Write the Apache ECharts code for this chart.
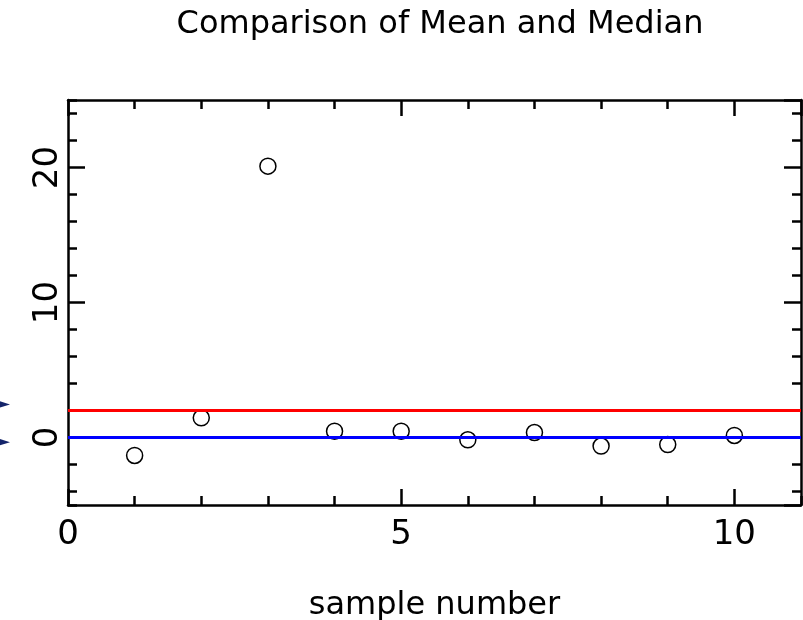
<!DOCTYPE html>
<html>
<head>
<meta charset="utf-8">
<script src="https://cdn.jsdelivr.net/npm/echarts@6/dist/echarts.min.js"></script>
<style>
  html, body { margin: 0; padding: 0; background: #fff; }
  #chart { width: 803px; height: 620px; }
</style>
</head>
<body>
<div id="chart"></div>
<script>
// data
var sampleNumbers = [1, 2, 3, 4, 5, 6, 7, 8, 9, 10];
var sampleValues = [-1.33, 1.46, 20.1, 0.47, 0.47, -0.17, 0.37, -0.63, -0.52, 0.15];
var meanValue = 2.05;
var medianValue = 0.02;
var arrowValues = [2.45, -0.35];
var arrowX = -0.99;

var xRange = [0, 11];
var yRange = [-5, 25];

var FONT = 'DejaVu Sans';

var points = sampleNumbers.map(function (n, i) { return [n, sampleValues[i]]; });
var arrows = arrowValues.map(function (v) { return [arrowX, v]; });

// one axis for the long ticks, one for the short ones, on every side
function xAxisDef(pos, major) {
  return {
    type: 'value', position: pos, offset: 0, min: xRange[0], max: xRange[1],
    interval: major ? 5 : 1,
    axisLine: { show: major, onZero: false, lineStyle: { color: '#000', width: 2.5 } },
    axisTick: { show: true, inside: true, length: major ? 16 : 9, lineStyle: { color: '#000', width: 2.5 } },
    axisLabel: (major && pos === 'bottom') ? {
      show: true, color: '#000', fontFamily: FONT, fontSize: 34, margin: 13,
      showMaxLabel: false
    } : { show: false },
    name: (major && pos === 'bottom') ? 'sample number' : '',
    nameLocation: 'middle', nameGap: 85,
    nameTextStyle: { color: '#000', fontFamily: FONT, fontSize: 32 },
    splitLine: { show: false }
  };
}
function yAxisDef(pos, major) {
  return {
    type: 'value', position: pos, offset: 0, min: yRange[0], max: yRange[1],
    splitNumber: major ? 3 : 15,
    axisLine: { show: major, onZero: false, lineStyle: { color: '#000', width: 2.5 } },
    axisTick: { show: true, inside: true, length: major ? 17 : 9, lineStyle: { color: '#000', width: 2.5 } },
    axisLabel: (major && pos === 'left') ? {
      show: true, color: '#000', fontFamily: FONT, fontSize: 34, margin: 3, rotate: 90,
      showMinLabel: false, showMaxLabel: false
    } : { show: false },
    splitLine: { show: false }
  };
}

var chart = echarts.init(document.getElementById('chart'));
chart.setOption({
  backgroundColor: '#fff',
  animation: false,
  title: {
    text: 'Comparison of Mean and Median',
    left: 435, top: 4, textAlign: 'center',
    textStyle: { color: '#000', fontFamily: FONT, fontSize: 32, fontWeight: 'normal' }
  },
  grid: { left: 68, right: 2, top: 100, bottom: 115, containLabel: false, outerBoundsMode: 'none' },
  xAxis: [xAxisDef('bottom', true), xAxisDef('bottom', false), xAxisDef('top', true), xAxisDef('top', false)],
  yAxis: [yAxisDef('left', true), yAxisDef('left', false), yAxisDef('right', true), yAxisDef('right', false)],
  series: [
    {
      type: 'scatter',
      xAxisIndex: 0, yAxisIndex: 0,
      data: points,
      symbol: 'circle', symbolSize: 16,
      itemStyle: { color: 'rgba(0,0,0,0)', borderColor: '#000', borderWidth: 1.5, opacity: 1 },
      markLine: {
        silent: true, symbol: ['none', 'none'],
        label: { show: false },
        data: [
          { yAxis: meanValue, lineStyle: { color: '#ff0000', width: 3, type: 'solid', opacity: 1 } },
          { yAxis: medianValue, lineStyle: { color: '#0000ff', width: 3, type: 'solid', opacity: 1 } }
        ]
      },
      z: 3
    },
    {
      type: 'scatter',
      xAxisIndex: 0, yAxisIndex: 0,
      clip: false,
      data: arrows,
      symbol: 'triangle', symbolSize: [10, 16], symbolRotate: -90,
      itemStyle: { color: '#14246a', opacity: 1 }
    }
  ]
});
</script>
</body>
</html>
